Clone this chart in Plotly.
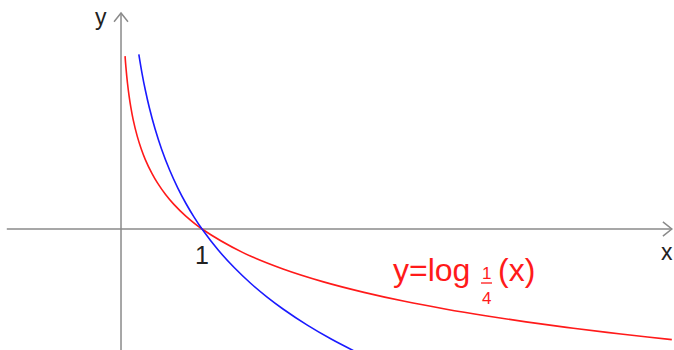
import plotly.graph_objects as go

# points for y = log_{1/4}(x) (red) and y = log_{1/2}(x) (blue)
red_x = [0.05, 0.06, 0.08, 0.10, 0.12, 0.15, 0.20, 0.25, 0.30, 0.38, 0.45, 0.55, 0.65, 0.80,
         1.0, 1.5, 2.0, 2.5, 3.0, 3.5, 4.0, 4.5, 5.0, 5.5, 6.0, 6.5, 6.8]
red_y = [2.161, 2.030, 1.822, 1.661, 1.530, 1.368, 1.161, 1.000, 0.868, 0.698, 0.576, 0.431, 0.311, 0.161,
         0.0, -0.292, -0.500, -0.661, -0.792, -0.904, -1.000, -1.085, -1.161, -1.230, -1.292, -1.350, -1.383]

blue_x = [0.22, 0.26, 0.30, 0.35, 0.42, 0.50, 0.60, 0.70, 0.80, 0.90,
          1.0, 1.2, 1.4, 1.6, 1.8, 2.0, 2.3, 2.6, 2.9, 3.0]
blue_y = [2.184, 1.943, 1.737, 1.515, 1.252, 1.000, 0.737, 0.515, 0.322, 0.152,
          0.0, -0.263, -0.485, -0.678, -0.848, -1.000, -1.202, -1.379, -1.536, -1.585]

x_rng = [-1.494, 6.827]
y_rng = [-1.5125, 2.8625]
axis_col = "#8a8a8a"
fnt = "Liberation Sans, Arial, sans-serif"
red = "#ff1a1a"

fig = go.Figure()
fig.add_trace(go.Scatter(x=red_x, y=red_y, mode="lines", line=dict(color=red, width=1.6, shape="spline"),
                         hoverinfo="skip"))
fig.add_trace(go.Scatter(x=blue_x, y=blue_y, mode="lines", line=dict(color="#1a1aff", width=1.6, shape="spline"),
                         hoverinfo="skip"))

# axes with open arrow heads
x_end, y_end = 6.80, 2.70
fig.add_shape(type="line", x0=-1.41, x1=x_end, y0=0, y1=0, line=dict(color=axis_col, width=1.5), layer="below")
fig.add_shape(type="line", x0=0, x1=0, y0=y_rng[0], y1=y_end, line=dict(color=axis_col, width=1.5), layer="below")
fig.add_shape(type="path", path=f"M {x_end-0.11} 0.088 L {x_end} 0 L {x_end-0.11} -0.088",
              line=dict(color=axis_col, width=1.5))
fig.add_shape(type="path", path=f"M -0.086 {y_end-0.11} L 0 {y_end} L 0.086 {y_end-0.11}",
              line=dict(color=axis_col, width=1.5))

fig.add_annotation(x=-0.247, y=2.65, text="y", showarrow=False, font=dict(size=23, color="#222", family=fnt))
fig.add_annotation(x=6.74, y=-0.29, text="x", showarrow=False, font=dict(size=23, color="#222", family=fnt))
fig.add_annotation(x=1.0, y=-0.33, text="1", showarrow=False, font=dict(size=25, color="#222", family=fnt))

# label y=log_{1/4}(x)
fig.add_annotation(x=3.33, y=-0.51, text="y=log", showarrow=False, xanchor="left",
                   font=dict(size=32, color=red, family=fnt))
fig.add_annotation(x=4.512, y=-0.56, text="1", showarrow=False, font=dict(size=17, color=red, family=fnt))
fig.add_shape(type="line", x0=4.444, x1=4.580, y0=-0.675, y1=-0.675, line=dict(color=red, width=1.3))
fig.add_annotation(x=4.512, y=-0.865, text="4", showarrow=False, font=dict(size=17, color=red, family=fnt))
fig.add_annotation(x=4.63, y=-0.51, text="(x)", showarrow=False, xanchor="left",
                   font=dict(size=32, color=red, family=fnt))

fig.update_layout(
    width=674, height=350,
    margin=dict(l=0, r=0, t=0, b=0),
    plot_bgcolor="white", paper_bgcolor="white",
    showlegend=False,
    xaxis=dict(range=x_rng, visible=False, fixedrange=True),
    yaxis=dict(range=y_rng, visible=False, fixedrange=True),
)
fig.write_html("out.html", config={"displayModeBar": False},
               post_script="document.body.style.margin='0';")
